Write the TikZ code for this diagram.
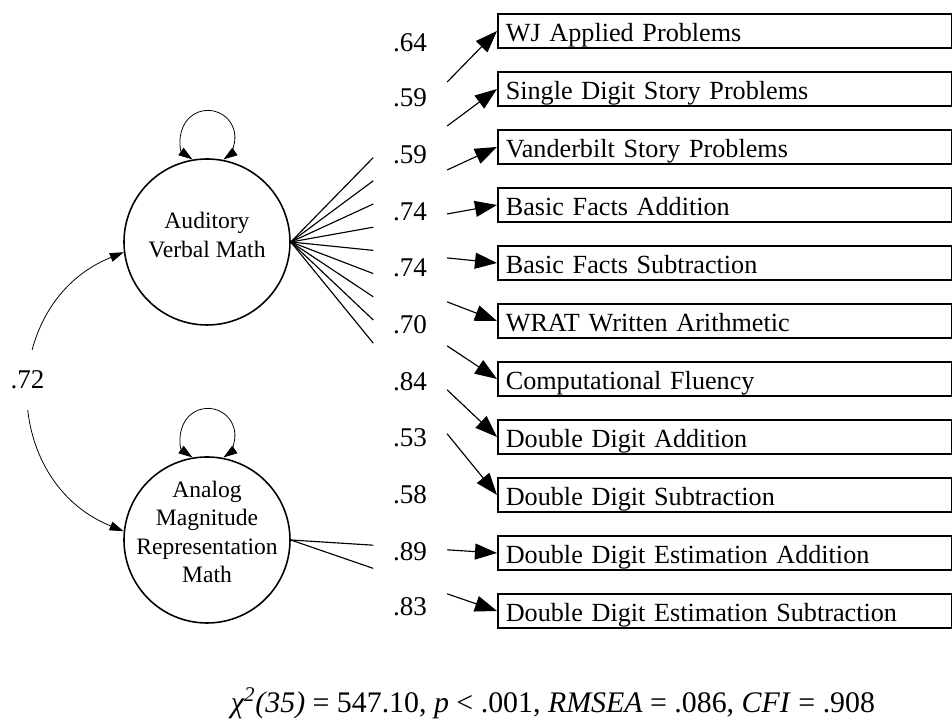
\documentclass[tikz,border=0pt]{standalone}
\usepackage{fontspec}
\setmainfont{Liberation Serif}
\usetikzlibrary{arrows.meta,calc}

\begin{document}
\begin{tikzpicture}[
    latent/.style={circle, draw, line width=0.9pt, minimum size=3.32cm, inner sep=0pt},
    ltxt/.style={align=center, font=\fontsize{13.4}{16.2}\selectfont},
    obs/.style={draw, line width=0.9pt, anchor=west, minimum height=0.68cm, text width=8.76cm,
        inner xsep=0.16cm, inner ysep=0pt, text height=15pt, text depth=3pt, align=left,
        font=\fontsize{14.9}{17}\selectfont},
    coef/.style={font=\fontsize{15.4}{18}\selectfont},
    loadline/.style={line width=0.65pt},
    loadarrow/.style={-{Triangle[length=0.44cm, width=0.32cm]}, line width=0.65pt},
    twoway/.style={{Triangle[length=0.28cm, width=0.18cm]}-{Triangle[length=0.28cm, width=0.18cm]}, line width=0.45pt}
]
\useasboundingbox (0,0) rectangle (19.04,14.38);

% Latent factors
\node[latent] (av) at (4.14, 9.54) {};
\node[ltxt] (avtxt) at (4.14, 9.68) {Auditory\\Verbal Math};
\node[latent] (am) at (4.14, 3.58) {};
\node[ltxt] (amtxt) at (4.14, 3.74) {Analog\\Magnitude\\Representation\\Math};

% Variances and correlation
\draw[twoway] (av.100) arc[start angle=235, end angle=-55, radius=0.54cm];
\draw[twoway] (am.100) arc[start angle=235, end angle=-55, radius=0.54cm];
\draw[twoway] (av.187) to[bend right=68, looseness=1.24] (am.174);
\node[coef, fill=white, minimum height=1.2cm, inner sep=0pt] (r72) at (0.55, 6.78) {.72};

% Observed measures
\node[obs] (b1) at (9.94, 13.76) {WJ Applied Problems};
\node[obs] (b2) at (9.94, 12.60) {Single Digit Story Problems};
\node[obs] (b3) at (9.94, 11.44) {Vanderbilt Story Problems};
\node[obs] (b4) at (9.94, 10.28) {Basic Facts Addition};
\node[obs] (b5) at (9.94, 9.12) {Basic Facts Subtraction};
\node[obs] (b6) at (9.94, 7.96) {WRAT Written Arithmetic};
\node[obs] (b7) at (9.94, 6.80) {Computational Fluency};
\node[obs] (b8) at (9.94, 5.64) {Double Digit Addition};
\node[obs] (b9) at (9.94, 4.48) {Double Digit Subtraction};
\node[obs] (b10) at (9.94, 3.32) {Double Digit Estimation Addition};
\node[obs] (b11) at (9.94, 2.16) {Double Digit Estimation Subtraction};

% Loadings
\node[coef] (l1) at (8.20, 13.52) {.64};
\node[coef] (l2) at (8.20, 12.42) {.59};
\node[coef] (l3) at (8.20, 11.28) {.59};
\node[coef] (l4) at (8.20, 10.14) {.74};
\node[coef] (l5) at (8.20, 9.02) {.74};
\node[coef] (l6) at (8.20, 7.88) {.70};
\node[coef] (l7) at (8.20, 6.74) {.84};
\node[coef] (l8) at (8.20, 5.62) {.53};
\node[coef] (l9) at (8.20, 4.48) {.58};
\node[coef] (l10) at (8.20, 3.34) {.89};
\node[coef] (l11) at (8.20, 2.24) {.83};

\draw[loadline] (av.east) -- ($(av.east)!0.4!(b1.west)$);
\draw[loadarrow] ($(av.east)!0.758!(b1.west)$) -- (b1.west);
\draw[loadline] (av.east) -- ($(av.east)!0.4!(b2.west)$);
\draw[loadarrow] ($(av.east)!0.758!(b2.west)$) -- (b2.west);
\draw[loadline] (av.east) -- ($(av.east)!0.4!(b3.west)$);
\draw[loadarrow] ($(av.east)!0.758!(b3.west)$) -- (b3.west);
\draw[loadline] (av.east) -- ($(av.east)!0.4!(b4.west)$);
\draw[loadarrow] ($(av.east)!0.758!(b4.west)$) -- (b4.west);
\draw[loadline] (av.east) -- ($(av.east)!0.4!(b5.west)$);
\draw[loadarrow] ($(av.east)!0.758!(b5.west)$) -- (b5.west);
\draw[loadline] (av.east) -- ($(av.east)!0.4!(b6.west)$);
\draw[loadarrow] ($(av.east)!0.758!(b6.west)$) -- (b6.west);
\draw[loadline] (av.east) -- ($(av.east)!0.4!(b7.west)$);
\draw[loadarrow] ($(av.east)!0.758!(b7.west)$) -- (b7.west);
\draw[loadline] (av.east) -- ($(av.east)!0.4!(b8.west)$);
\draw[loadarrow] ($(av.east)!0.758!(b8.west)$) -- (b8.west);
\draw[loadline] (av.east) -- ($(av.east)!0.4!(b9.west)$);
\draw[loadarrow] ($(av.east)!0.758!(b9.west)$) -- (b9.west);
\draw[loadline] (am.east) -- ($(am.east)!0.4!(b10.west)$);
\draw[loadarrow] ($(am.east)!0.758!(b10.west)$) -- (b10.west);
\draw[loadline] (am.east) -- ($(am.east)!0.4!(b11.west)$);
\draw[loadarrow] ($(am.east)!0.758!(b11.west)$) -- (b11.west);

% Fit
\node[anchor=base, font=\fontsize{17}{20}\selectfont] (fit) at (11.06, 0.12)
    {\textit{χ\textsuperscript{2}(35)} = 547.10, \textit{p} < .001, \textit{RMSEA} = .086, \textit{CFI} = .908};
\end{tikzpicture}
\end{document}
